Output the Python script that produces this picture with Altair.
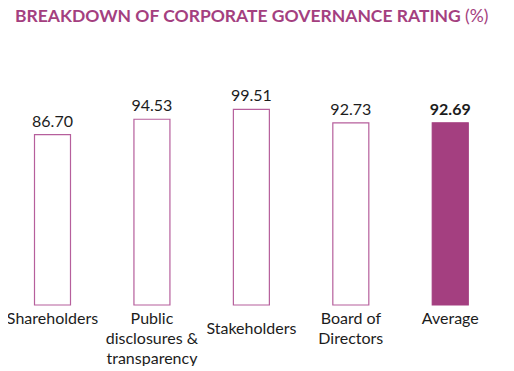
import altair as alt
import pandas as pd

categories = ["Shareholders", "Public disclosures & transparency", "Stakeholders",
              "Board of Directors", "Average"]
label_lines = ["Shareholders", "Public|disclosures &|transparency", "Stakeholders",
               "Board of|Directors", "Average"]
values = [86.70, 94.53, 99.51, 92.73, 92.69]
highlight = [False, False, False, False, True]
title_main = "BREAKDOWN OF CORPORATE GOVERNANCE RATING"
title_unit = "(%)"

PURPLE = "#a43f80"
OUTLINE = "#b65f9c"
INK = "#1c1c1c"
FONT = "Lato"

df = pd.DataFrame({"category": categories, "lines": label_lines,
                   "value": values, "highlight": highlight})

x = alt.X("category:N", sort=categories, axis=None,
          scale=alt.Scale(paddingInner=0.638, paddingOuter=0.323, align=0.4125, round=False))
y = alt.Y("value:Q", axis=None, scale=alt.Scale(domain=[0, 151.15], nice=False, zero=True))

base = alt.Chart(df).encode(x=x)

bars = base.mark_bar(strokeWidth=1.2).encode(
    y=y,
    fill=alt.condition("datum.highlight", alt.value(PURPLE), alt.value("white")),
    stroke=alt.condition("datum.highlight", alt.value(PURPLE), alt.value(OUTLINE)),
)

vals = base.transform_filter("!datum.highlight").mark_text(
    baseline="alphabetic", dy=-8, fontSize=16, font=FONT, color=INK
).encode(y=y, text=alt.Text("value:Q", format=".2f"))

vals_bold = base.transform_filter("datum.highlight").mark_text(
    baseline="alphabetic", dy=-8, fontSize=16, font=FONT, fontWeight="bold", color=INK
).encode(y=y, text=alt.Text("value:Q", format=".2f"))

cats = base.transform_filter("datum.category != 'Stakeholders'").transform_calculate(
    txt="split(datum.lines, '|')"
).mark_text(
    baseline="alphabetic", dy=19, lineHeight=20, fontSize=16, font=FONT, color=INK
).encode(y=alt.datum(0), text="txt:N")

cats_mid = base.transform_filter("datum.category == 'Stakeholders'").mark_text(
    baseline="alphabetic", dy=29, fontSize=16, font=FONT, color=INK
).encode(y=alt.datum(0), text="lines:N")

t1 = alt.Chart(pd.DataFrame({"t": [title_main]})).mark_text(
    align="left", baseline="alphabetic", fontSize=17.5, fontWeight="bold", font=FONT, color=PURPLE
).encode(x=alt.value(7), y=alt.value(14), text="t:N")

t2 = alt.Chart(pd.DataFrame({"t": [title_unit]})).mark_text(
    align="left", baseline="alphabetic", fontSize=17.5, font=FONT, color=PURPLE
).encode(x=alt.value(457), y=alt.value(14), text="t:N")

chart = alt.layer(bars, vals, vals_bold, cats, cats_mid, t1, t2).properties(
    width=498, height=297,
    padding={"left": 0, "top": 0, "right": 0, "bottom": 61},
    autosize=alt.AutoSizeParams(type="none"),
).configure_view(stroke=None)

chart.save("out.html", embed_options={"renderer": "svg", "actions": False})
